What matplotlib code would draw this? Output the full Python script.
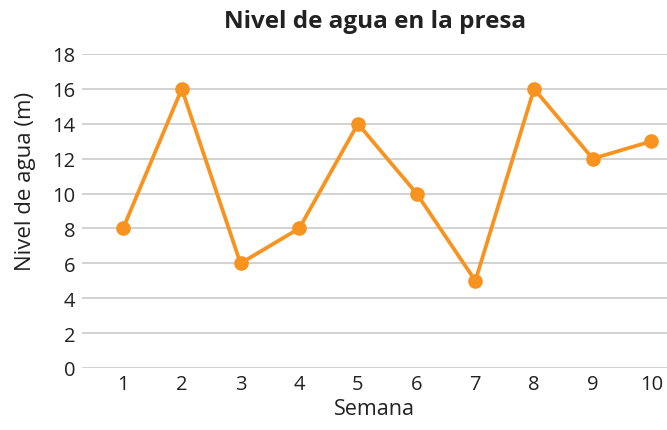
import matplotlib
matplotlib.use("Agg")
import matplotlib.pyplot as plt

# --- data ---
semanas = [1, 2, 3, 4, 5, 6, 7, 8, 9, 10]
nivel = [8, 16, 6, 8, 14, 10, 5, 16, 12, 13]
y_ticks = [0, 2, 4, 6, 8, 10, 12, 14, 16, 18]

plt.rcParams['font.family'] = ['Open Sans', 'DejaVu Sans']

fig = plt.figure(figsize=(6.67, 4.31), dpi=100)
ax = fig.add_axes([0.1229, 0.1439, 0.8771, 0.7285])

ax.plot(semanas, nivel, color='#F7931E', linewidth=2.7, marker='o',
        markersize=9.5, zorder=3, clip_on=False)

ax.set_xlim(0.30, 10.264)
ax.set_ylim(0, 18)
ax.set_yticks(y_ticks)
ax.set_xticks(semanas)
ax.yaxis.grid(True, color='#cfcfcf', linewidth=1.3)
ax.set_axisbelow(True)
for s in ax.spines.values():
    s.set_visible(False)
ax.tick_params(axis='both', length=0, labelsize=14.5, colors='#222222')
ax.tick_params(axis='y', pad=5)
ax.tick_params(axis='x', pad=4)

ax.set_xlabel('Semana', fontsize=15.5, color='#222222', labelpad=3)
fig.text(0.0375, 0.578, 'Nivel de agua (m)', rotation=90, fontsize=16,
         color='#222222', ha='center', va='center')
fig.text(0.563, 0.95, 'Nivel de agua en la presa', fontsize=17.5,
         fontweight='bold', color='#222222', ha='center', va='center')

fig.savefig('out.png', dpi=100)
